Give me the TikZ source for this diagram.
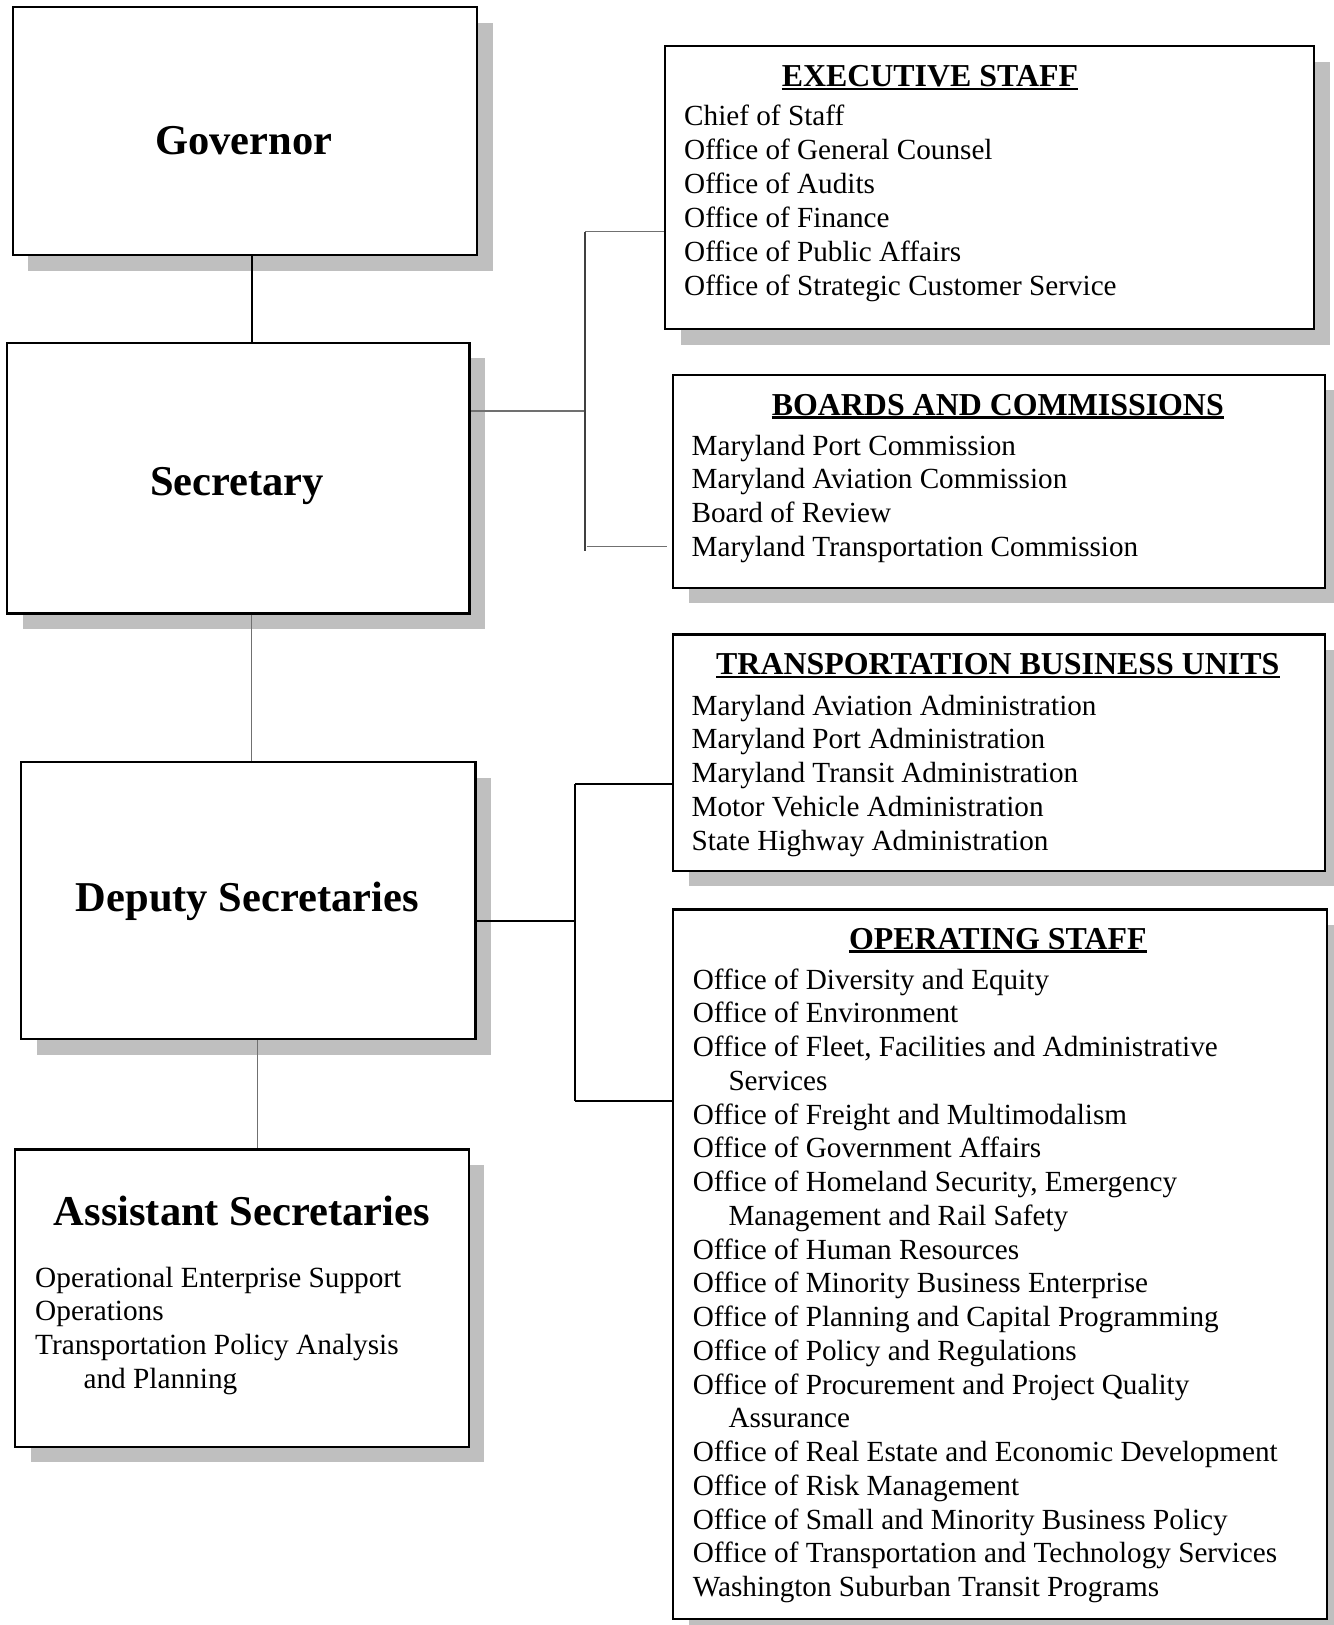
\documentclass[tikz,border=0pt]{standalone}
\usepackage{fontspec}
\setmainfont{Liberation Serif}
\usetikzlibrary{shadows}
\definecolor{shgray}{HTML}{BFBFBF}
\definecolor{lngray}{HTML}{707070}
\definecolor{vgray}{HTML}{404040}
\begin{document}
\begin{tikzpicture}[x=1bp,y=-1bp,
  box/.style={draw=black, line width=2.2bp, fill=white, rectangle, anchor=north west, inner sep=0pt,
    general shadow={fill=shgray, shadow xshift=15.5bp, shadow yshift=-15.5bp}},
  big/.style={anchor=base, inner sep=0pt, font=\fontsize{42.5bp}{50bp}\selectfont\bfseries},
  ttl/.style={anchor=base, inner sep=0pt, font=\fontsize{31.9bp}{38bp}\selectfont\bfseries},
  itm/.style={anchor=base west, inner sep=0pt, font=\fontsize{29.2bp}{34bp}\selectfont},
  aitm/.style={anchor=base west, inner sep=0pt, font=\fontsize{29.3bp}{34bp}\selectfont},
  ul/.style={line width=2.4bp},
  thickconn/.style={line width=2bp, draw=black},
  thinconn/.style={line width=1.5bp, draw=lngray},
  vconn/.style={line width=1.5bp, draw=vgray}
]
\useasboundingbox (0,0) rectangle (1334,1625);
\clip (0,0) rectangle (1334,1625);
\fill[white] (0,0) rectangle (1334,1625);

% ---- boxes ----
\node[box, minimum width=464.3bp, minimum height=248bp] (gov) at (11.7,6) {};
\node[box, minimum width=462.3bp, minimum height=270.6bp] (sec) at (6,341.7) {};
\node[box, minimum width=454.3bp, minimum height=277.2bp] (dep) at (20,761) {};
\node[box, minimum width=453.5bp, minimum height=297.5bp] (asst) at (14,1148.3) {};
\node[box, minimum width=649bp, minimum height=283bp] (exec) at (664,45) {};
\node[box, minimum width=652bp, minimum height=213.2bp] (boards) at (672,373.6) {};
\node[box, minimum width=652bp, minimum height=236.1bp] (trans) at (672,633.4) {};
\node[box, minimum width=654bp, minimum height=709.7bp] (op) at (672,908.3) {};

% ---- left column titles ----
\node[big] (govt) at (243.8,154) {Governor};
\node[big] (sect) at (237,495) {Secretary};
\node[big] (dept) at (247.2,911) {Deputy Secretaries};
\node[big] (asstt) at (241.7,1225) {Assistant Secretaries};

\foreach [count=\i] \dx/\txt in {0/Operational Enterprise Support, 0/Operations,
    0/Transportation Policy Analysis, 48.3/and Planning}
  \node[aitm] (as\i) at ({35+\dx},{1287+33.9*(\i-1)}) {\txt};

% ---- right column ----
\node[ttl] (exect) at (929.9,86.5) {EXECUTIVE STAFF};
\draw[ul] ([yshift=-2.5bp]exect.base west) -- ([yshift=-2.5bp]exect.base east);
\foreach [count=\i] \txt in {Chief of Staff, Office of General Counsel, Office of Audits,
    Office of Finance, Office of Public Affairs, Office of Strategic Customer Service}
  \node[itm] (ex\i) at (684,{125.5+33.9*(\i-1)}) {\txt};

\node[ttl] (boardst) at (997.8,415) {BOARDS AND COMMISSIONS};
\draw[ul] ([yshift=-2.5bp]boardst.base west) -- ([yshift=-2.5bp]boardst.base east);
\foreach [count=\i] \txt in {Maryland Port Commission, Maryland Aviation Commission,
    Board of Review, Maryland Transportation Commission}
  \node[itm] (bc\i) at (691.4,{455+33.8*(\i-1)}) {\txt};

\node[ttl] (transt) at (997.8,674.5) {TRANSPORTATION BUSINESS UNITS};
\draw[ul] ([yshift=-2.5bp]transt.base west) -- ([yshift=-2.5bp]transt.base east);
\foreach [count=\i] \txt in {Maryland Aviation Administration, Maryland Port Administration,
    Maryland Transit Administration, Motor Vehicle Administration, State Highway Administration}
  \node[itm] (tb\i) at (691.4,{715+33.8*(\i-1)}) {\txt};

\node[ttl] (opt) at (997.8,949) {OPERATING STAFF};
\draw[ul] ([yshift=-2.5bp]opt.base west) -- ([yshift=-2.5bp]opt.base east);
\foreach [count=\i] \dx/\txt in {0/Office of Diversity and Equity, 0/Office of Environment,
    {0/Office of Fleet, Facilities and Administrative}, 35.6/Services,
    0/Office of Freight and Multimodalism, 0/Office of Government Affairs,
    {0/Office of Homeland Security, Emergency}, 35.6/Management and Rail Safety,
    0/Office of Human Resources, 0/Office of Minority Business Enterprise,
    0/Office of Planning and Capital Programming, 0/Office of Policy and Regulations,
    0/Office of Procurement and Project Quality, 35.6/Assurance,
    0/Office of Real Estate and Economic Development, 0/Office of Risk Management,
    0/Office of Small and Minority Business Policy,
    0/Office of Transportation and Technology Services,
    0/Washington Suburban Transit Programs}
  \node[itm] (os\i) at ({692.7+\dx},{989+33.76*(\i-1)}) {\txt};

% ---- connectors ----
\coordinate (gx) at (252,0);
\coordinate (sx) at (251.7,0);
\coordinate (dx) at (257.3,0);
\draw[thickconn] (gov.south -| gx) -- (sec.north -| gx);
\draw[thinconn] (sec.south -| sx) -- (dep.north -| sx);
\draw[thinconn] (dep.south -| dx) -- (asst.north -| dx);

\coordinate (b1) at (585,231.7);
\coordinate (b2) at (585,411);
\coordinate (b3) at (585,550.7);
\coordinate (b4) at (586.5,546.7);
\coordinate (b5) at (667,546.7);
\draw[thinconn] (sec.east |- b2) -- (b2);
\draw[vconn] (b1) -- (b3);
\draw[thinconn] (b1) -- (exec.west |- b1);
\draw[thinconn] (b4) -- (b5);

\coordinate (d1) at (575,784.3);
\coordinate (d2) at (575,921);
\coordinate (d3) at (575,1100.7);
\draw[thickconn] (dep.east |- d2) -- (d2);
\draw[thickconn] (d1) -- (d3);
\draw[thickconn] (d1) -- (trans.west |- d1);
\draw[thickconn] (d3) -- (op.west |- d3);
\end{tikzpicture}
\end{document}
